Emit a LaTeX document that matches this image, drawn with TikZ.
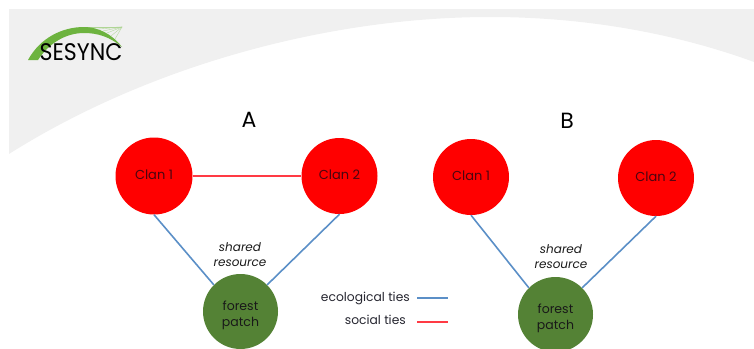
\documentclass[tikz,border=0pt]{standalone}
\usepackage{fontspec}
\setmainfont{Poppins}
\definecolor{bandgray}{HTML}{F0F0F0}
\definecolor{clanred}{HTML}{FF0000}
\definecolor{forestgreen}{HTML}{548235}
\definecolor{tieblue}{HTML}{5B8FC7}
\definecolor{tiered}{HTML}{FF3A44}
\definecolor{logogreen}{HTML}{6DB33F}
\definecolor{inkdark}{HTML}{262630}
\definecolor{clanink}{HTML}{4A0510}
\newcommand{\patchlabel}{\raisebox{-7pt}[0pt][0pt]{\begin{tabular}{@{}c@{}}forest\\patch\end{tabular}}}
\newcommand{\clanlabel}[1]{\raisebox{-3pt}[0pt][0pt]{#1}}
\tikzset{
  clan/.style={circle,fill=clanred,minimum size=76pt,inner sep=0pt,text=clanink,font=\fontsize{13pt}{15pt}\selectfont},
  patch/.style={circle,fill=forestgreen,minimum size=75pt,inner sep=0pt,text=black!90,font=\fontsize{12.5pt}{15.5pt}\selectfont},
  ecotie/.style={draw=tieblue,line width=1.6pt},
  soctie/.style={draw=tiered,line width=1.8pt},
  panel/.style={text=black,font=\fontsize{22pt}{24pt}\selectfont},
  note/.style={align=center,text=black!90,font=\fontsize{12pt}{15pt}\selectfont\itshape},
  legendtext/.style={anchor=east,inner sep=0pt,text=inkdark,font=\fontsize{12.3pt}{14pt}\selectfont}
}
\begin{document}
\begin{tikzpicture}[x=1pt,y=-1pt]
\useasboundingbox (0,0) rectangle (754,348);
\clip (0,0) rectangle (754,348);
% background band
\fill[bandgray] (9,9) -- (754,9) -- (754,62)
  .. controls (680,35) and (590,17) .. (490,17)
  .. controls (330,17) and (150,65) .. (9,154) -- cycle;
% logo
\foreach \xx/\yy in {94/28,99/29,103/31,107/33,111/36,115/39}
  \draw[logogreen!50,line width=0.4pt] (122,27) -- (\xx,\yy);
\draw[logogreen!55,line width=0.5pt] (88,27) -- (122,27);
\fill[logogreen] (28,60) .. controls (40,38) and (62,27) .. (84,27)
  .. controls (98,27) and (112,34) .. (122,47)
  .. controls (110,37) and (98,33) .. (84,33)
  .. controls (66,33) and (49,43) .. (38,60) -- cycle;
\node[text=black,font=\fontsize{24pt}{26pt}\selectfont,inner sep=0pt,xscale=0.92] (logo) at (81,52) {SESYNC};
% panel A
\node[panel] (titleA) at (249,120) {A};
\node[clan,minimum size=77pt] (a1) at (154,176) {\clanlabel{Clan 1}};
\node[clan] (a2) at (339.5,176) {\clanlabel{Clan 2}};
\node[patch] (af) at (240.5,311.5) {\patchlabel};
\draw[soctie] (a1) -- (a2);
\draw[ecotie] (a1.south) -- (af.135);
\draw[ecotie] (a2.south) -- (af.45);
\node[note] (an) at (240,254.5) {shared\\resource};
% panel B
\node[panel] (titleB) at (567,121) {B};
\node[clan] (b1) at (471,177) {\clanlabel{Clan 1}};
\node[clan] (b2) at (656,178) {\clanlabel{Clan 2}};
\node[patch] (bf) at (555.5,314.5) {\patchlabel};
\draw[ecotie] (b1.south) -- (bf.135);
\draw[ecotie] (b2.south) -- (bf.45);
\node[note] (bn) at (561,257) {shared\\resource};
% legend
\coordinate (l1a) at (417,298);
\coordinate (l1b) at (448,298);
\coordinate (l2a) at (417,322);
\coordinate (l2b) at (448,322);
\draw[ecotie] (l1a) -- (l1b);
\draw[soctie] (l2a) -- (l2b);
\node[legendtext] (l1) at (410,298.5) {ecological ties};
\node[legendtext] (l2) at (406,320) {social ties};
\end{tikzpicture}
\end{document}
